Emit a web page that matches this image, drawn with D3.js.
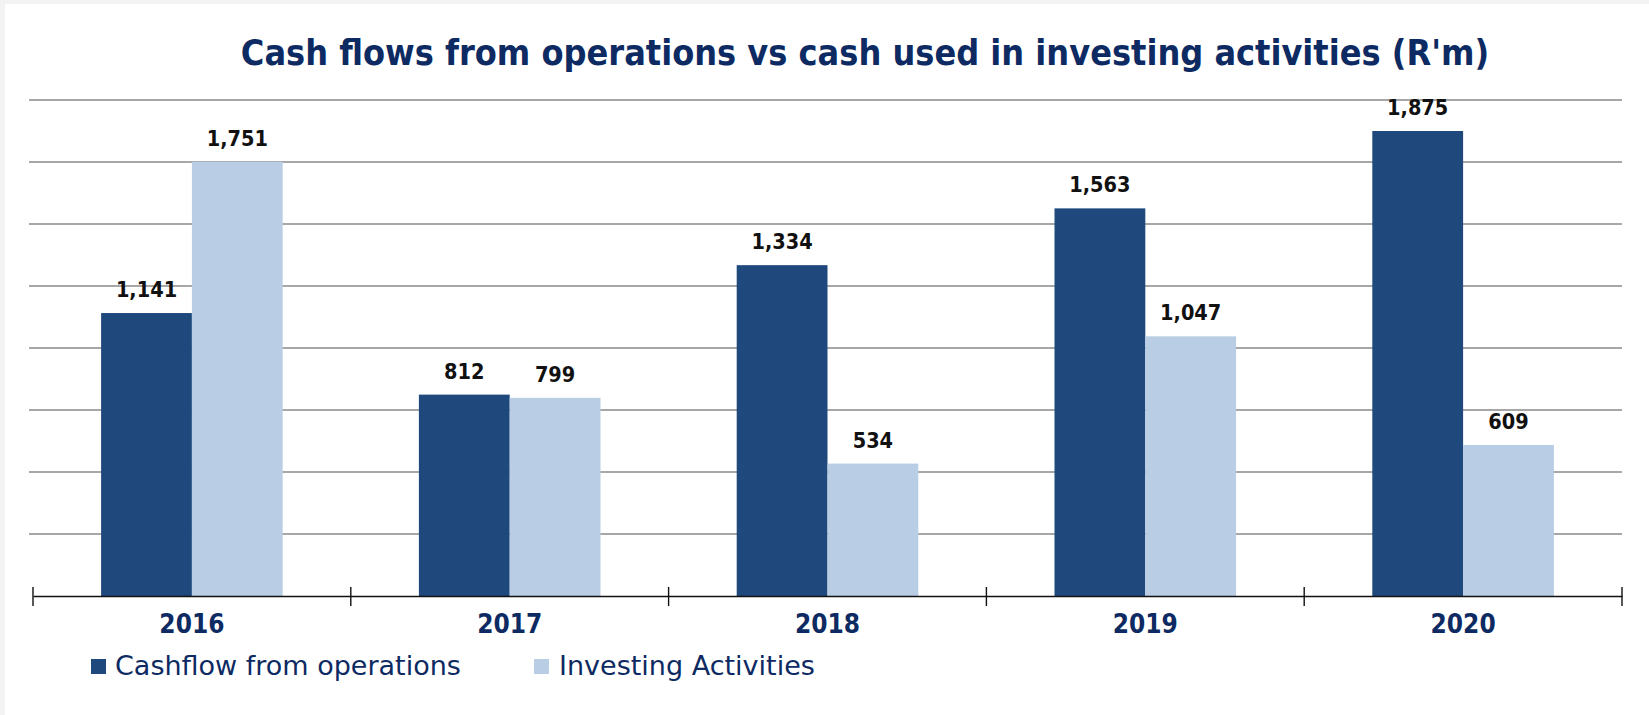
<!DOCTYPE html>
<html>
<head>
<meta charset="utf-8">
<script src="https://cdn.jsdelivr.net/npm/d3@7/dist/d3.min.js"></script>
<style>
  html, body { margin: 0; padding: 0; background: #f3f3f3; }
  svg { display: block; }
</style>
</head>
<body>
<svg id="chart" width="1649" height="715"></svg>
<script>
// Financial years shown on the x axis
const years = ["2016", "2017", "2018", "2019", "2020"];
// Series names (legend order)
const seriesNames = ["Cashflow from operations", "Investing Activities"];
// Values in R'm
const operations = [1141, 812, 1334, 1563, 1875];
const investing = [1751, 799, 534, 1047, 609];
// Gridline values
const gridValues = [250, 500, 750, 1000, 1250, 1500, 1750, 2000];
const chartTitle = "Cash flows from operations vs cash used in investing activities (R'm)";

const colors = ["#1f497d", "#b9cde5"];
const navy = "#0d2a62";
const boldFont = "'DejaVu Sans Condensed', 'DejaVu Sans', sans-serif";
const regularFont = "'DejaVu Sans', sans-serif";

const svg = d3.select("#chart");
const W = 1649, H = 715;

// white card
svg.append("rect").attr("x", 5).attr("y", 4).attr("width", W - 5).attr("height", H - 4).attr("fill", "#ffffff");

const plot = { left: 33, right: 1622, top: 100, bottom: 596 };

const x0 = d3.scaleBand().domain(years).range([plot.left, plot.right]).padding(0);
const x1 = d3.scaleBand().domain(seriesNames).range([0, x0.bandwidth()]).paddingInner(0).paddingOuter(0.75);
const y = d3.scaleLinear().domain([0, 2000]).range([plot.bottom, plot.top]);

// gridlines
svg.append("g")
  .selectAll("line")
  .data(gridValues)
  .join("line")
  .attr("x1", plot.left - 4)
  .attr("x2", plot.right)
  .attr("y1", d => y(d))
  .attr("y2", d => y(d))
  .attr("stroke", "#8a8a8a")
  .attr("stroke-width", 1.6);

// bars
const rows = years.map((yr, i) => ({ year: yr, values: [operations[i], investing[i]] }));
const groups = svg.append("g").selectAll("g")
  .data(rows)
  .join("g")
  .attr("transform", d => `translate(${x0(d.year)},0)`);

groups.selectAll("rect")
  .data(d => d.values.map((v, k) => ({ key: seriesNames[k], value: v, k })))
  .join("rect")
  .attr("x", d => x1(d.key))
  .attr("width", x1.bandwidth())
  .attr("y", d => y(d.value))
  .attr("height", d => y(0) - y(d.value))
  .attr("fill", d => colors[d.k]);

// value labels
groups.selectAll("text")
  .data(d => d.values.map((v, k) => ({ key: seriesNames[k], value: v, k })))
  .join("text")
  .attr("x", d => x1(d.key) + x1.bandwidth() / 2)
  .attr("y", d => y(d.value) - 16)
  .attr("text-anchor", "middle")
  .attr("font-family", boldFont)
  .attr("font-weight", "bold")
  .attr("font-size", 21.5)
  .attr("fill", "#111111")
  .text(d => d3.format(",")(d.value));

// x axis
const xAxis = svg.append("g")
  .attr("transform", `translate(0,${plot.bottom})`)
  .call(d3.axisBottom(x0).tickSize(0).tickPadding(19));
xAxis.select(".domain").attr("stroke", "#111").attr("stroke-width", 1.6);
xAxis.selectAll(".tick text")
  .attr("font-family", boldFont)
  .attr("font-weight", "bold")
  .attr("font-size", 26)
  .attr("fill", navy);

// boundary ticks between categories
const bounds = years.map(d => x0(d)).concat([x0(years[years.length - 1]) + x0.bandwidth()]);
xAxis.append("g").selectAll("line")
  .data(bounds)
  .join("line")
  .attr("x1", d => d).attr("x2", d => d)
  .attr("y1", -9).attr("y2", 10)
  .attr("stroke", "#111").attr("stroke-width", 1.4);

// title
svg.append("text")
  .attr("x", 865)
  .attr("y", 65)
  .attr("text-anchor", "middle")
  .attr("font-family", boldFont)
  .attr("font-weight", "bold")
  .attr("font-size", 35.7)
  .attr("fill", navy)
  .text(chartTitle);

// legend
const legendPos = [{ sx: 91, tx: 115 }, { sx: 534, tx: 559 }];
const legend = svg.append("g");
seriesNames.forEach((name, i) => {
  legend.append("rect")
    .attr("x", legendPos[i].sx).attr("y", 659)
    .attr("width", 15).attr("height", 15)
    .attr("fill", colors[i]);
  legend.append("text")
    .attr("x", legendPos[i].tx).attr("y", 675)
    .attr("font-family", regularFont)
    .attr("font-size", 27)
    .attr("fill", navy)
    .text(name);
});
</script>
</body>
</html>
